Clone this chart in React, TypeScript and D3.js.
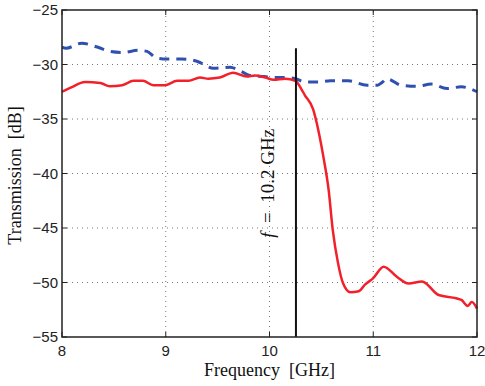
import * as d3 from 'd3';

// Measured transmission, red (solid) trace
const redFreq = [8.0, 8.09, 8.22, 8.37, 8.46, 8.58, 8.69, 8.78, 8.88, 8.99, 9.11, 9.22, 9.33, 9.41, 9.52, 9.65, 9.78, 9.86, 9.96, 10.04, 10.15, 10.25, 10.31, 10.34, 10.42, 10.47, 10.52, 10.57, 10.61, 10.66, 10.71, 10.78, 10.86, 10.92, 11.0, 11.1, 11.23, 11.34, 11.47, 11.63, 11.8, 11.85, 11.91, 11.95, 12.0];
const redDb = [-32.5, -32.1, -31.6, -31.7, -32.0, -31.9, -31.5, -31.5, -31.9, -31.9, -31.5, -31.5, -31.2, -31.3, -31.2, -30.75, -31.1, -31.0, -31.2, -31.4, -31.3, -31.5, -32.3, -32.8, -34.1, -36.0, -38.5, -41.5, -45.2, -48.2, -50.1, -50.9, -50.8, -50.2, -49.6, -48.55, -49.5, -50.1, -49.9, -51.15, -51.45, -51.6, -52.15, -51.8, -52.4];

// Reference trace, blue (dashed)
const blueFreq = [8.0, 8.04, 8.19, 8.34, 8.46, 8.58, 8.74, 8.82, 8.91, 9.01, 9.15, 9.3, 9.46, 9.62, 9.72, 9.81, 9.95, 10.06, 10.17, 10.25, 10.34, 10.47, 10.59, 10.76, 10.94, 11.04, 11.09, 11.13, 11.27, 11.42, 11.56, 11.71, 11.85, 12.0];
const blueDb = [-28.4, -28.5, -28.05, -28.4, -28.8, -28.9, -28.7, -28.8, -29.4, -29.5, -29.5, -29.7, -30.35, -30.25, -30.6, -31.0, -31.1, -31.2, -31.2, -31.3, -31.6, -31.6, -31.5, -31.5, -31.9, -31.9, -31.6, -31.3, -31.9, -32.0, -31.8, -32.2, -32.05, -32.5];

const xTicks = [8, 9, 10, 11, 12];
const yTicks = [-25, -30, -35, -40, -45, -50, -55];
const markerFreq = 10.255;
const markerTop = -28.5;

const W = 485;
const H = 386;
const margin = { top: 10, right: 8, bottom: 49, left: 62 };

export default function App() {
  const x = d3.scaleLinear().domain([8, 12]).range([margin.left, W - margin.right]);
  const y = d3.scaleLinear().domain([-55, -25]).range([H - margin.bottom, margin.top]);
  const [x0, x1] = x.range();
  const [y0, y1] = y.range();

  const line = d3.line<[number, number]>()
    .x(d => x(d[0]))
    .y(d => y(d[1]))
    .curve(d3.curveMonotoneX);

  const red = redFreq.map((f, i) => [f, redDb[i]] as [number, number]);
  const blue = blueFreq.map((f, i) => [f, blueDb[i]] as [number, number]);
  const fmt = (v: number) => (v < 0 ? '\u2212' + Math.abs(v) : String(v));
  const tick = 5;
  const serif = "'Liberation Serif', 'DejaVu Serif', serif";

  return (
    <svg width={W} height={H} style={{ position: 'fixed', left: 0, top: 0, background: '#fff' }}>
      {/* grid */}
      <g stroke="#777" strokeWidth={1} strokeDasharray="1,4">
        {xTicks.slice(1, -1).map(t => (
          <line key={'gx' + t} x1={x(t)} x2={x(t)} y1={y0} y2={y1} />
        ))}
        {yTicks.slice(1, -1).map(t => (
          <line key={'gy' + t} x1={x0} x2={x1} y1={y(t)} y2={y(t)} />
        ))}
      </g>

      {/* tick marks (inside, all four sides) */}
      <g stroke="#222" strokeWidth={1}>
        {xTicks.map(t => (
          <g key={'tx' + t}>
            <line x1={x(t)} x2={x(t)} y1={y0} y2={y0 - tick} />
            <line x1={x(t)} x2={x(t)} y1={y1} y2={y1 + tick} />
          </g>
        ))}
        {yTicks.map(t => (
          <g key={'ty' + t}>
            <line x1={x0} x2={x0 + tick} y1={y(t)} y2={y(t)} />
            <line x1={x1} x2={x1 - tick} y1={y(t)} y2={y(t)} />
          </g>
        ))}
      </g>

      {/* data */}
      <path d={line(blue) || ''} fill="none" stroke="#3050b0" strokeWidth={3} strokeDasharray="10,7" />
      <path d={line(red) || ''} fill="none" stroke="#f2202a" strokeWidth={2.5} strokeLinejoin="round" />

      {/* marker line */}
      <line x1={x(markerFreq)} x2={x(markerFreq)} y1={y(markerTop)} y2={y0} stroke="#111" strokeWidth={2} />
      <text
        transform={`translate(${x(markerFreq) - 22},${y(-40.9)}) rotate(-90)`}
        textAnchor="middle"
        fontFamily={serif}
        fontSize={19}
        fill="#111"
      >
        <tspan fontStyle="italic">f</tspan>{'\u2002=\u200210.2\u2005GHz'}
      </text>

      {/* frame */}
      <rect x={x0} y={y1} width={x1 - x0} height={y0 - y1} fill="none" stroke="#222" strokeWidth={1.5} />

      {/* tick labels */}
      <g fontFamily="'Liberation Sans', Arial, sans-serif" fontSize={15} fill="#222">
        {xTicks.map(t => (
          <text key={'lx' + t} x={x(t)} y={y0 + 19} textAnchor="middle">{t}</text>
        ))}
        {yTicks.map(t => (
          <text key={'ly' + t} x={x0 - 4} y={y(t) + 5} textAnchor="end">{fmt(t)}</text>
        ))}
      </g>

      {/* axis titles */}
      <text x={(x0 + x1) / 2} y={H - 10} textAnchor="middle" fontFamily={serif} fontSize={18} fill="#111">
        {'Frequency\u00a0\u00a0[GHz]'}
      </text>
      <text
        transform={`translate(21,${(y0 + y1) / 2 + 2}) rotate(-90)`}
        textAnchor="middle"
        fontFamily={serif}
        fontSize={18}
        fill="#111"
      >
        {'Transmission\u00a0\u00a0[dB]'}
      </text>
    </svg>
  );
}
